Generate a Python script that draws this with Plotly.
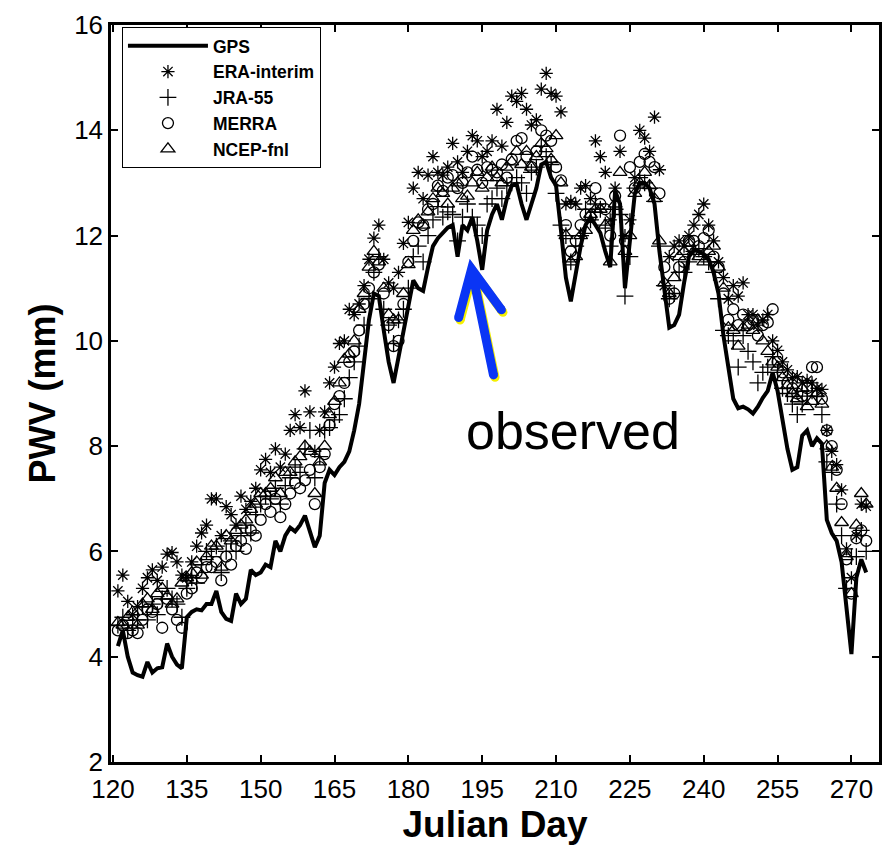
import plotly.graph_objects as go

START_DAY = 121

gps = [4.2, 4.5, 4.0, 3.7, 3.65, 3.62, 3.9, 3.7, 3.78, 3.8,
       4.25, 4.0, 3.85, 3.78, 4.75, 4.85, 4.9, 4.88, 5.0, 5.0,
       5.25, 4.85, 4.72, 4.68, 5.2, 5.0, 5.1, 5.65, 5.55, 5.6,
       5.75, 5.7, 6.2, 6.0, 6.3, 6.45, 6.38, 6.5, 6.68, 6.35,
       6.08, 6.3, 7.3, 7.55, 7.45, 7.6, 7.7, 7.9, 8.3, 8.8,
       9.6, 10.4, 10.9, 10.85, 10.2, 9.6, 9.2, 9.7, 10.1, 10.6,
       11.15, 11.0, 10.95, 11.4, 11.8, 11.95, 12.05, 12.15, 12.2, 11.6,
       12.2, 12.1, 12.35, 11.9, 11.35, 12.1, 12.4, 12.6, 12.3, 12.7,
       12.95, 12.98, 12.6, 12.3, 12.6, 12.9, 13.35, 13.4, 13.1, 12.95,
       12.1, 11.2, 10.75, 11.3, 11.8, 12.2, 12.35, 12.2, 12.05, 11.7,
       11.4, 12.85, 12.6, 11.0, 11.9, 12.8, 13.0, 13.0, 12.9, 12.6,
       11.7, 10.9, 10.25, 10.3, 10.5, 11.1, 11.6, 11.72, 11.7, 11.65,
       11.55, 11.3, 10.9, 10.1, 9.5, 8.9, 8.72, 8.75, 8.7, 8.62,
       8.75, 8.92, 9.05, 9.4, 9.05, 8.5, 7.95, 7.55, 7.6, 8.2,
       8.3, 8.0, 8.15, 8.05, 6.6, 6.35, 6.2, 5.8, 4.9, 4.05,
       5.5, 5.85, 5.6]

era = [5.25, 5.55, 5.05, 4.8, 4.95, 5.3, 5.5, 5.65, 5.45, 5.7,
       5.95, 5.98, 5.8, 5.55, 5.5, 5.8, 6.1, 6.35, 6.5, 7.0,
       7.0, 6.3, 6.85, 6.7, 6.5, 7.05, 6.8, 6.95, 7.2, 7.55,
       7.75, 7.5, 7.95, 7.6, 7.85, 8.3, 8.6, 8.35, 9.05, 8.65,
       7.9, 8.3, 8.65, 9.2, 9.5, 9.95, 10.0, 10.6, 10.5, 10.7,
       11.05, 11.55, 11.95, 12.2, 11.55, 11.1, 11.0, 11.3, 11.85, 12.25,
       12.9, 13.2, 12.7, 13.15, 13.5, 13.2, 13.15, 13.3, 13.75, 13.4,
       13.2, 13.6, 13.9, 13.8, 13.5, 13.6, 13.8, 14.4, 13.7, 14.15,
       14.65, 14.55, 14.7, 14.4, 14.1, 14.2, 14.78, 15.08, 14.7, 14.65,
       14.35, 12.6, 12.65, 12.6, 12.9, 12.95, 12.7, 13.8, 13.5, 13.2,
       12.3, 12.9, 13.6, 12.0, 12.3, 13.1, 14.0, 13.85, 13.6, 14.25,
       13.25, 11.05, 11.6, 11.8, 11.9, 11.8, 12.0, 12.2, 12.4, 12.6,
       12.2, 11.9, 11.5, 11.2, 10.8, 11.05, 10.85, 11.1, 10.5, 10.5,
       10.3, 10.4, 10.5, 10.0, 9.82, 9.6, 9.45, 9.3, 9.32, 9.2,
       9.25, 9.2, 9.1, 9.08, 8.3, 7.9, 7.65, 7.17, 6.05, 5.5,
       6.3, 6.9, 6.86]

jra = [4.6, 4.75, 4.5, 4.6, 4.7, 4.95, 4.7, 5.0, 4.8, 5.1,
       5.3, 5.1, 5.0, 4.75, 5.3, 5.5, 5.4, 5.75, 6.0, 5.9,
       6.1, 5.6, 6.0, 6.2, 6.0, 6.3, 6.5, 6.35, 6.7, 6.9,
       7.05, 7.0, 7.2, 6.9, 7.25, 7.4, 7.6, 7.5, 7.95, 8.3,
       7.4, 7.8, 8.3, 8.35, 8.5, 8.6, 8.9, 9.3, 9.6, 9.9,
       10.3, 10.8, 11.3, 11.6, 10.6, 10.3, 9.95, 10.4, 10.6, 11.0,
       11.6, 11.8, 11.5, 12.0, 12.3, 12.55, 12.35, 12.45, 12.4, 11.9,
       12.35, 12.6, 12.35, 12.2, 12.0, 12.6, 12.7, 12.9, 12.7, 12.95,
       13.0, 13.1, 13.0, 12.8, 13.2, 13.3, 13.7, 13.5, 13.35, 12.8,
       12.2, 12.0, 11.5, 11.8, 12.0, 12.5, 12.3, 12.6, 12.5, 12.2,
       11.8, 12.5, 12.4, 10.85, 11.6, 12.9, 13.1, 13.0, 12.9, 12.65,
       11.8, 11.05, 10.8, 10.9, 11.3, 11.3, 11.5, 11.7, 11.75, 11.6,
       11.5, 11.3, 10.8, 10.2, 10.1, 10.0, 9.5, 10.1, 9.8, 9.6,
       9.2, 9.4, 9.5, 9.7, 9.4, 9.1, 9.0, 8.8, 8.6, 8.8,
       8.95, 9.05, 8.95, 8.6, 7.7, 7.5, 6.9, 6.3, 5.3, 5.9,
       5.9, 6.4, 6.0]

merra = [4.5, 4.6, 4.45, 4.5, 4.45, 4.7, 4.9, 4.85, 5.0, 4.55,
         5.1, 4.9, 4.7, 4.55, 5.2, 5.3, 5.6, 5.5, 5.7, 5.7,
         5.8, 5.45, 5.9, 5.75, 6.1, 6.2, 6.05, 6.4, 6.3, 6.6,
         6.9, 6.75, 7.0, 6.65, 6.9, 7.1, 7.3, 7.2, 7.35, 7.55,
         6.9, 7.6, 7.85, 8.4, 8.8, 8.95, 9.2, 9.6, 9.8, 10.2,
         10.7, 11.0, 11.3, 11.45, 10.9, 10.3, 9.9, 10.0, 10.7, 11.5,
         11.9, 12.25, 12.2, 12.5, 12.6, 12.95, 12.85, 13.1, 13.15, 12.9,
         13.0, 13.2, 13.5, 13.25, 13.0, 13.3, 13.25, 13.2, 13.35, 13.1,
         13.45, 13.8, 13.85, 13.5, 13.3, 13.6, 14.0, 13.9, 13.8, 13.3,
         13.05, 12.2, 11.7, 11.9, 12.2, 12.4, 12.35, 12.9, 12.6, 12.5,
         12.0, 12.75, 13.9, 11.9, 13.3, 12.9, 13.4, 13.55, 13.4, 13.3,
         12.8, 11.4, 10.8, 10.9, 11.4, 11.5, 11.9, 11.9, 11.8, 11.95,
         12.1, 11.6, 11.4, 10.9, 10.4, 10.6, 10.3, 10.5, 10.3, 10.4,
         10.1, 10.3, 10.35, 10.6, 9.6, 9.4, 9.2, 9.1, 9.0, 8.95,
         9.1, 9.5, 9.5, 8.9, 8.3, 8.0, 7.55, 6.9, 5.85, 5.2,
         6.25, 6.4, 6.2]

ncep = [4.65, 4.6, 4.75, 4.85, 4.6, 5.0, 5.1, 4.9, 5.2, 5.3,
        5.15, 5.0, 5.1, 5.4, 5.5, 5.6, 5.8, 5.55, 5.9, 6.1,
        6.1, 5.7, 6.3, 6.2, 6.4, 6.5, 6.6, 6.8, 6.9, 7.1,
        7.1, 7.2, 7.4, 7.1, 7.5, 7.5, 7.7, 7.8, 8.0, 7.9,
        7.1, 7.7, 8.0, 8.6, 8.85, 9.2, 9.65, 9.75, 10.0, 10.6,
        10.9, 11.4, 11.7, 11.5, 11.0, 10.5, 10.4, 10.4, 10.9, 11.45,
        12.1, 12.3, 12.2, 12.45, 12.7, 12.9, 12.8, 12.6, 12.9, 13.0,
        12.7, 12.75, 13.0, 13.2, 12.9, 13.1, 13.3, 13.1, 13.0, 13.3,
        13.4, 13.6, 13.35, 13.6, 13.3, 13.5, 13.75, 13.65, 13.45, 13.9,
        13.0, 12.0, 11.5, 11.6, 12.0, 12.1, 12.4, 12.5, 12.5, 12.2,
        11.5, 12.6, 13.2, 11.7, 12.0, 12.8, 13.0, 13.2, 12.95, 12.7,
        11.9, 11.1, 10.9, 11.2, 11.6, 11.7, 11.85, 11.7, 11.6, 11.5,
        11.7, 11.8, 11.4, 11.0, 10.25, 10.2, 9.9, 10.25, 10.3, 10.2,
        10.4, 10.0, 9.8, 9.6, 9.5, 9.3, 9.15, 9.0, 8.9, 9.1,
        8.75, 8.85, 9.0, 8.8, 8.0, 7.6, 7.2, 6.55, 5.9, 5.2,
        6.5, 7.1, 6.9]

x_ticks = [120, 135, 150, 165, 180, 195, 210, 225, 240, 255, 270]
y_ticks = [2, 4, 6, 8, 10, 12, 14, 16]
X_RANGE = [119.6, 275.6]
Y_RANGE = [2, 16]


def days_for(series):
    return list(range(START_DAY, START_DAY + len(series)))


FONT = "Liberation Sans, Arial, sans-serif"

fig = go.Figure()
fig.add_trace(go.Scatter(x=days_for(gps), y=gps, mode="lines", name="GPS",
                         line=dict(color="black", width=4)))
marker_specs = [
    ("ERA-interim", era, "asterisk-open", 11),
    ("JRA-55", jra, "cross-thin-open", 12),
    ("MERRA", merra, "circle-open", 11),
    ("NCEP-fnl", ncep, "triangle-up-open", 12),
]
for name, vals, sym, size in marker_specs:
    fig.add_trace(go.Scatter(
        x=days_for(vals), y=vals, mode="markers", name=name,
        marker=dict(symbol=sym, size=size, color="black",
                    line=dict(color="black", width=1.3))))

# plot area in pixels
L, R, T, B = 111, 882, 15, 773
W, H = 892, 848


def px(xp, yp):
    return (xp - L) / (R - L), 1 - (yp - T) / (B - T)


# arrow (pixel geometry of the annotation)
tail, tip, lw, rw = (495, 375), (473, 266), (460, 316), (503, 308)


def arrow_path(dx, dy):
    pts = [tail, tip, lw, rw]
    p = [px(a + dx, b + dy) for a, b in pts]
    return (f"M{p[0][0]},{p[0][1]} L{p[1][0]},{p[1][1]} "
            f"M{p[2][0]},{p[2][1]} L{p[1][0]},{p[1][1]} L{p[3][0]},{p[3][1]}")


shapes = []
for dx, dy, col in [(1.5, 2.5, "#f5f000"), (0, 0, "#0a35f5")]:
    shapes.append(dict(type="path", xref="paper", yref="paper",
                       path=arrow_path(dx, dy),
                       line=dict(color=col, width=9)))
    for (a, b) in [tail, lw, rw]:
        x0, y0 = px(a + dx - 4.5, b + dy + 4.5)
        x1, y1 = px(a + dx + 4.5, b + dy - 4.5)
        shapes.append(dict(type="circle", xref="paper", yref="paper",
                           x0=x0, y0=y0, x1=x1, y1=y1,
                           fillcolor=col, line=dict(width=0)))

ox, oy = px(575, 433)
annotations = [dict(text="observed", xref="paper", yref="paper", x=ox, y=oy,
                    xanchor="center", yanchor="middle", showarrow=False,
                    font=dict(family=FONT, size=52, color="black"))]

lx, ly = px(122, 17)
fig.update_layout(
    width=W, height=H,
    margin=dict(l=L, r=W - R, t=T, b=H - B, pad=0),
    paper_bgcolor="white", plot_bgcolor="white",
    font=dict(family=FONT, color="black"),
    shapes=shapes, annotations=annotations,
    legend=dict(x=lx, y=ly, xanchor="left", yanchor="top",
                bgcolor="white", bordercolor="black", borderwidth=1,
                font=dict(family=FONT, size=17.5, color="black", weight="bold"),
                itemwidth=80, tracegroupgap=0),
    xaxis=dict(range=X_RANGE, tickvals=x_ticks, ticks="inside", ticklen=7,
               tickwidth=2, tickcolor="black", showline=True, linewidth=2.5,
               linecolor="black", mirror="ticks", showgrid=False, zeroline=False,
               tickfont=dict(size=26, family=FONT), ticklabelstandoff=2,
               title=dict(text="<b>Julian Day</b>", standoff=8,
                          font=dict(size=37, family=FONT))),
    yaxis=dict(range=Y_RANGE, tickvals=y_ticks, ticks="inside", ticklen=7,
               tickwidth=2, tickcolor="black", showline=True, linewidth=2.5,
               linecolor="black", mirror="ticks", showgrid=False, zeroline=False,
               tickfont=dict(size=26, family=FONT),
               title=dict(text="<b>PWV (mm)</b>", standoff=8,
                          font=dict(size=36, family=FONT))),
)

fig.write_html("out.html")
